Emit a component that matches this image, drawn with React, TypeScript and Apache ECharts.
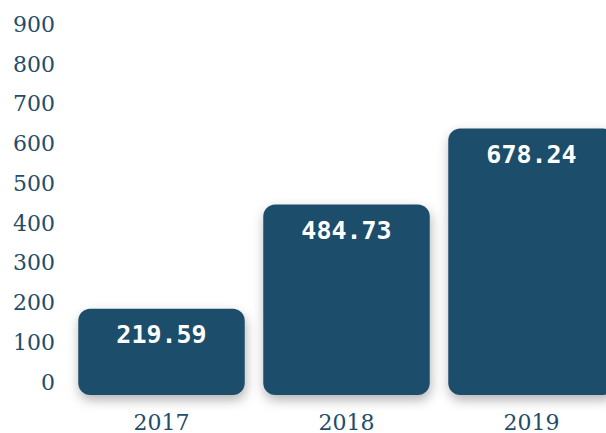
import React, { useEffect, useRef } from "react";
import * as echarts from "echarts";

const categories = ["2017", "2018", "2019"];
const values = [219.59, 484.73, 678.24];
const yMin = 0;
const yMax = 900;
const yInterval = 100;

const BAR = "#1f4d6a";

export default function App() {
  const ref = useRef<HTMLDivElement>(null);
  useEffect(() => {
    if (!ref.current) return;
    const chart = echarts.init(ref.current, undefined, { renderer: "svg" });
    chart.setOption({
      animation: false,
      backgroundColor: "#ffffff",
      grid: [
        { left: 69, right: 0, top: 41.5, bottom: 34, containLabel: false },
        { left: 69, right: 0, top: 24.5, bottom: 51, containLabel: false },
      ],
      xAxis: [
        {
          type: "category",
          gridIndex: 0,
          data: categories,
          axisLine: { show: false },
          axisTick: { show: false },
          axisLabel: {
            color: BAR,
            fontFamily: "DejaVu Serif",
            fontSize: 22,
            margin: 16,
          },
        },
        {
          type: "category",
          gridIndex: 1,
          data: categories,
          show: false,
        },
      ],
      yAxis: [
        {
          type: "value",
          gridIndex: 0,
          min: yMin,
          max: yMax,
          interval: yInterval,
          show: false,
        },
        {
          type: "value",
          gridIndex: 1,
          min: yMin,
          max: yMax,
          interval: yInterval,
          splitLine: { show: false },
          axisLine: { show: false },
          axisTick: { show: false },
          axisLabel: {
            color: BAR,
            fontFamily: "DejaVu Serif",
            fontSize: 22,
            margin: 14,
          },
        },
      ],
      series: [
        {
          type: "bar",
          xAxisIndex: 0,
          yAxisIndex: 0,
          data: values,
          barWidth: "90%",
          itemStyle: {
            color: BAR,
            borderRadius: 12,
            shadowBlur: 12,
            shadowColor: "rgba(0,0,0,0.3)",
            shadowOffsetX: 1,
            shadowOffsetY: 5,
          },
          label: {
            show: true,
            position: "insideTop",
            distance: 13,
            color: "#ffffff",
            fontFamily: "DejaVu Sans Mono",
            fontWeight: "bold",
            fontSize: 25,
            formatter: (p: any) => p.value.toFixed(2),
          },
        },
      ],
    });
    return () => chart.dispose();
  }, []);
  return (
    <div
      style={{
        position: "fixed",
        left: 0,
        top: 0,
        width: 606,
        height: 433,
        overflow: "hidden",
      }}
    >
      <div ref={ref} style={{ width: 624, height: 433 }} />
    </div>
  );
}
